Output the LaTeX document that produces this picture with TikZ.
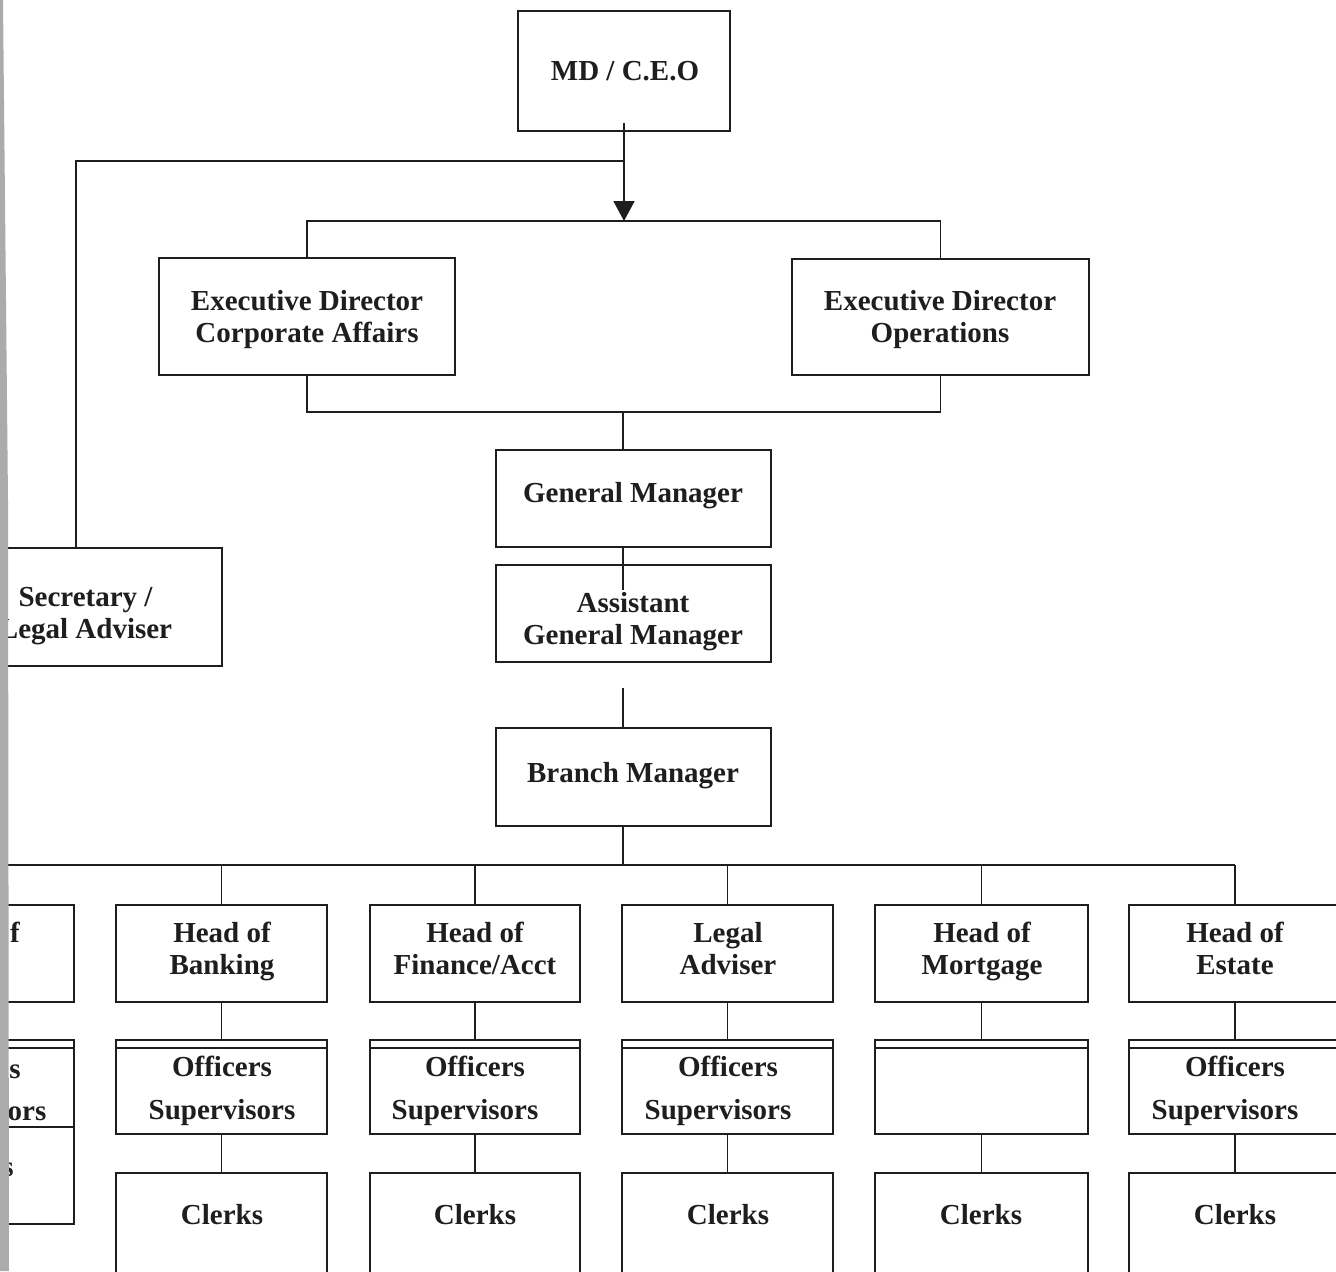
\documentclass[tikz,border=0pt]{standalone}
\usepackage{fontspec}
\setmainfont{Liberation Serif}
\usetikzlibrary{arrows.meta}
\definecolor{ink}{HTML}{1E1E1E}
\definecolor{stripgray}{HTML}{ABABAB}
\begin{document}
\begin{tikzpicture}[x=0.5pt,y=-0.5pt,
  box/.style={draw=ink, line width=1.2pt, inner sep=0pt, fill=white},
  ln/.style={text=ink, font=\fontsize{14.5}{16}\selectfont\bfseries, inner sep=0pt, anchor=base},
  conn/.style={draw=ink, line width=0.9pt},
  arr/.style={conn, -{Triangle[width=10.5pt,length=10pt]}}]
\useasboundingbox (0,0) rectangle (1336,1271);
\clip (0,0) rectangle (1336,1271);
\fill[white] (0,0) rectangle (1336,1271);

% --- top level boxes
\node[box, minimum width=106pt, minimum height=60pt] (ceo) at (624,71) {};
\node[ln] (ceot) at (625,80) {MD / C.E.O};

\node[box, minimum width=148pt, minimum height=58.5pt] (edca) at (307,316.5) {};
\node[ln] (edca1) at (307,310) {Executive Director};
\node[ln] (edca2) at (307,342) {Corporate Affairs};
\node[box, minimum width=148.5pt, minimum height=58pt] (edop) at (940.5,317) {};
\node[ln] (edop1) at (940,310) {Executive Director};
\node[ln] (edop2) at (940,342) {Operations};

\node[box, minimum width=137.5pt, minimum height=48.5pt] (gm) at (633.5,498.5) {};
\node[ln] (gmt) at (633,502) {General Manager};
\node[box, minimum width=137.5pt, minimum height=48.5pt] (agm) at (633.5,613.5) {};
\node[ln] (agm1) at (633,612) {Assistant};
\node[ln] (agm2) at (633,644) {General Manager};
\node[box, minimum width=137.5pt, minimum height=49pt] (bm) at (633.5,777) {};
\node[ln] (bmt) at (633,782) {Branch Manager};

\node[box, minimum width=121pt, minimum height=59pt] (sec) at (101,607) {};
\node[ln] (sec1) at (85.5,606) {Secretary /};
\node[ln] (sec2) at (85.5,638) {Legal Adviser};

% --- connectors, top
\coordinate (tbus) at (0,221);
\coordinate (lbr) at (0,161);
\coordinate (bbr) at (0,412);
\coordinate (bus) at (0,865);
\draw[arr] ([yshift=4.5pt]ceo.south) -- (ceo.south |- tbus);
\draw[conn] (ceo.south |- lbr) -- (76,161) -- (sec.north -| 76,0);
\draw[conn] (edca.north) -- (edca.north |- tbus) -- (edop.north |- tbus) -- (edop.north);
\draw[conn] (edca.south) -- (edca.south |- bbr) -- (edop.south |- bbr) -- (edop.south);
\draw[conn] (623,412) -- (gm.north -| 623,0);
\draw[conn] (gm.south -| 623,0) -- (623,590);
\draw[conn] (623,688) -- (bm.north -| 623,0);
\draw[conn] (bm.south -| 623,0) -- (623,865);
\draw[conn] (-5,865) -- (1235,865);

% --- departments
\foreach \n/\x/\w in {0/-31.5/105.5, 1/221.5/105.5, 2/475/105, 3/727.5/105.5, 4/981.5/106.5, 5/1235/106} {
  \node[box, minimum width=\w pt, minimum height=48.5pt] (h\n) at (\x,953.5) {};
}
\foreach \n/\x/\w in {1/221.5/105.5, 2/475/105, 3/727.5/105.5, 4/981.5/106.5, 5/1235/106} {
  \node[box, minimum width=\w pt, minimum height=47pt] (o\n) at (\x,1087) {};
  \draw[draw=ink, line width=1.1pt] ([yshift=-4.5pt]o\n.north west) -- ([yshift=-4.5pt]o\n.north east);
  \node[box, minimum width=\w pt, minimum height=60pt] (c\n) at (\x,1233) {};
  \draw[conn] (bus -| h\n.north) -- (h\n.north);
  \draw[conn] (h\n.south) -- (o\n.north);
  \draw[conn] (o\n.south) -- (c\n.north);
}
% left, cut-off column
\node[box, minimum width=105.5pt, minimum height=43.5pt] (o0) at (-31.5,1083.5) {};
\draw[draw=ink, line width=1.1pt] ([yshift=-4.5pt]o0.north west) -- ([yshift=-4.5pt]o0.north east);
\node[box, minimum width=105.5pt, minimum height=48.5pt] (c0) at (-31.5,1175.5) {};

% --- department texts
\node[ln] (h0t) at (15,942) {f};
\node[ln] (o0a) at (15,1078) {s};
\node[ln] (o0b) at (27,1120) {ors};
\node[ln] (c0t) at (8,1176) {s};

\node[ln] (h1a) at (222,942) {Head of};
\node[ln] (h1b) at (222,974) {Banking};
\node[ln] (h2a) at (475,942) {Head of};
\node[ln] (h2b) at (475,974) {Finance/Acct};
\node[ln] (h3a) at (728,942) {Legal};
\node[ln] (h3b) at (728,974) {Adviser};
\node[ln] (h4a) at (982,942) {Head of};
\node[ln] (h4b) at (982,974) {Mortgage};
\node[ln] (h5a) at (1235,942) {Head of};
\node[ln] (h5b) at (1235,974) {Estate};

\node[ln] (o1a) at (222,1076) {Officers};
\node[ln] (o1b) at (222,1119) {Supervisors};
\node[ln] (o2a) at (475,1076) {Officers};
\node[ln] (o2b) at (465,1119) {Supervisors};
\node[ln] (o3a) at (728,1076) {Officers};
\node[ln] (o3b) at (718,1119) {Supervisors};
\node[ln] (o5a) at (1235,1076) {Officers};
\node[ln] (o5b) at (1225,1119) {Supervisors};

\foreach \n/\x in {1/222, 2/475, 3/728, 4/981, 5/1235} {
  \node[ln] (c\n t) at (\x,1224) {Clerks};
}

% --- scanned page edge
\fill[stripgray] (0,0) -- (3,0) -- (8,500) -- (9,1271) -- (0,1271) -- cycle;
\end{tikzpicture}
\end{document}
